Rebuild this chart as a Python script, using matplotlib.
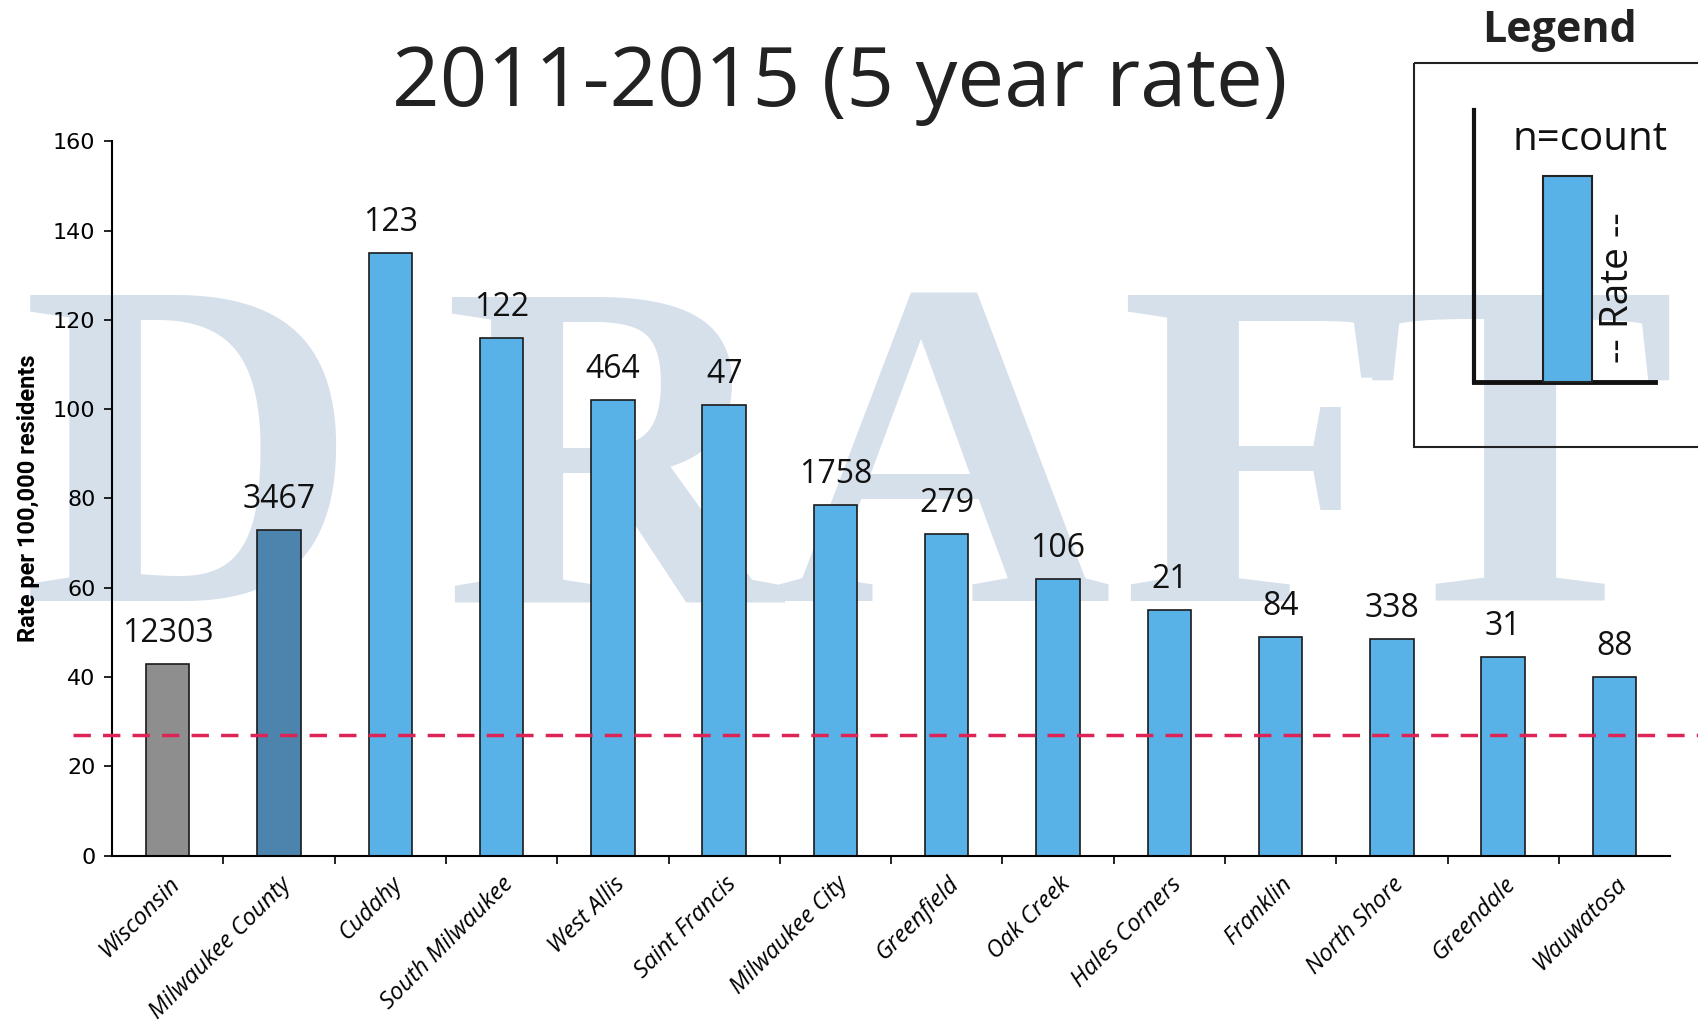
import matplotlib
matplotlib.use("Agg")
import matplotlib.pyplot as plt
from matplotlib.patches import Rectangle

areas = ["Wisconsin", "Milwaukee County", "Cudahy", "South Milwaukee", "West Allis",
         "Saint Francis", "Milwaukee City", "Greenfield", "Oak Creek", "Hales Corners",
         "Franklin", "North Shore", "Greendale", "Wauwatosa"]
rates = [43, 73, 135, 116, 102, 101, 78.5, 72, 62, 55, 49, 48.5, 44.5, 40]
counts = ["12303", "3467", "123", "122", "464", "47", "1758", "279", "106", "21",
          "84", "338", "31", "88"]
target_rate = 27

colors = ["#8e8e8e", "#4c84ad"] + ["#58b2e8"] * (len(areas) - 2)

fig = plt.figure(figsize=(16.99, 10.31), dpi=100)

# background layer in pixel coords: watermark + legend
bg = fig.add_axes([0, 0, 1, 1], zorder=0)
bg.set_xlim(0, 1699)
bg.set_ylim(1031, 0)
bg.axis("off")
# DRAFT watermark, letter by letter so it spreads across the chart
for ch, cx in zip("DRAFT", [190, 612, 943, 1262, 1520]):
    bg.text(cx, 601, ch, fontsize=336, family="Liberation Serif", weight="bold",
            color="#d6e0eb", ha="center", va="baseline", zorder=0)

# legend panel
bg.text(1560, 30, "Legend", fontsize=31, weight="bold", family="Open Sans",
        ha="center", va="center", color="#222222")
bg.add_patch(Rectangle((1414, 63), 300, 384, fill=False, ec="#222222", lw=1.5, zorder=3))
bg.plot([1474, 1474], [110, 382], color="#111111", lw=3, zorder=4)
bg.plot([1474, 1655], [382, 382], color="#111111", lw=3.5, zorder=4)
bg.add_patch(Rectangle((1543, 176), 49, 206, fc="#58b2e8", ec="#222222", lw=1.5, zorder=4))
bg.text(1590, 140, "n=count", fontsize=29, family="Open Sans", ha="center", va="center",
        color="#111111", zorder=5)
bg.text(1618, 288, "-- Rate --", fontsize=28, family="Open Sans", rotation=90,
        ha="center", va="center", color="#111111", zorder=5)

# title
fig.text(0.494, 0.918, "2011-2015 (5 year rate)", fontsize=60, family="Open Sans",
         ha="center", va="center", color="#222222")

ax = fig.add_axes([0.066, 0.170, 0.917, 0.693], zorder=1)
ax.patch.set_alpha(0)
x = list(range(len(areas)))
bars = ax.bar(x, rates, width=0.39, color=colors, edgecolor="#1a1a1a", linewidth=1.2, zorder=2)
ax.bar_label(bars, labels=counts, padding=10, fontsize=23, family="Open Sans", color="#111111")
ax.axhline(target_rate, xmin=-0.025, xmax=1.02, color="#dc2456", lw=2.5,
           ls=(0, (5, 3.5)), zorder=3, clip_on=False)

ax.set_xlim(-0.5, len(areas) - 0.5)
ax.set_ylim(0, 160)
ax.set_yticks(range(0, 161, 20))
ax.tick_params(axis="y", labelsize=16, length=6, width=1.2, direction="out", pad=6)
ax.set_ylabel("Rate per 100,000 residents", fontsize=17, weight="bold", labelpad=9,
              family="Roboto")
ax.set_xticks(x)
ax.set_xticklabels(areas, rotation=45, ha="right", rotation_mode="anchor",
                   fontsize=17, style="italic", family="Open Sans")
ax.tick_params(axis="x", length=0, pad=12)
ax.set_xticks([i + 0.5 for i in x[:-1]], minor=True)
ax.tick_params(axis="x", which="minor", length=6, width=1.2, direction="out")
for s in ["top", "right"]:
    ax.spines[s].set_visible(False)
ax.spines["left"].set_linewidth(1.5)
ax.spines["bottom"].set_linewidth(1.5)

fig.savefig("out.png", dpi=100)
